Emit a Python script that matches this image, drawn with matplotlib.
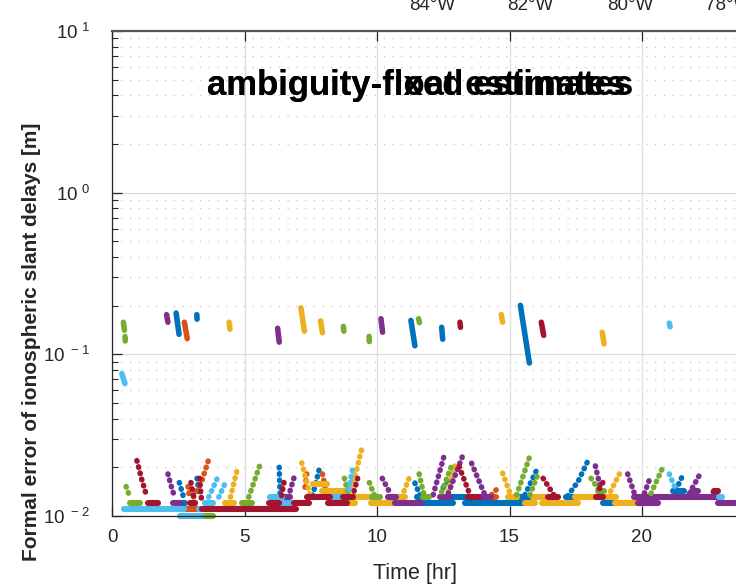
"""
Formal error of ionospheric slant delays, ambiguity-fixed vs ambiguity-float
(MATLAB-style log plot, redrawn with matplotlib).
"""

import matplotlib
matplotlib.use("Agg")
import matplotlib.pyplot as plt

plt.rcParams['font.family'] = ['Liberation Sans', 'DejaVu Sans']
plt.rcParams['mathtext.fontset'] = 'custom'
plt.rcParams['mathtext.rm'] = 'Liberation Sans'

TEXT = '#262626'

# MATLAB default line colours, one per satellite group
colors = {
    'blue': '#0072BD',
    'orange': '#D95319',
    'yellow': '#EDB120',
    'purple': '#7E2F8E',
    'green': '#77AC30',
    'lightblue': '#4DBEEE',
    'darkred': '#A2142F',
}

# floor levels of the fixed solution [m]
R0, R1, R2, R3, R4 = 0.0100, 0.0110, 0.0121, 0.0131, 0.0142

# --- rising / falling arms of each pass: (time [hr], error [m]) vertices ---
blue_arms = [
    [(2.54, 0.0161), (2.70, 0.0131)],
    [(3.21, 0.0171), (3.30, 0.0131)],
    [(6.31, 0.0200), (6.34, 0.0138)],
    [(7.81, 0.0192), (7.66, 0.0152), (7.54, 0.0131)],
    [(11.43, 0.0160), (11.62, 0.0135)],
    [(12.50, 0.0150), (12.70, 0.0165)],
    [(15.58, 0.0135), (16.02, 0.0192)],
    [(17.20, 0.0133), (17.60, 0.0165), (17.99, 0.0225)],
    [(21.28, 0.0145), (21.56, 0.0182)],
]
orange_arms = [
    [(2.87, 0.0152), (2.92, 0.0131)],
    [(3.08, 0.0131), (3.40, 0.0167), (3.69, 0.0235)],
    [(7.35, 0.0182), (7.26, 0.0140)],
    [(7.94, 0.0182), (8.04, 0.0152)],
    [(14.32, 0.0135), (14.58, 0.0150)],
]
yellow_arms = [
    [(4.47, 0.0131), (4.72, 0.0192)],
    [(7.16, 0.0213), (7.26, 0.0184), (7.47, 0.0135)],
    [(8.92, 0.0138), (9.23, 0.0192), (9.46, 0.0275)],
    [(10.93, 0.0131), (11.21, 0.0171)],
    [(12.69, 0.0142), (12.94, 0.0204)],
    [(14.74, 0.0184), (15.04, 0.0135)],
    [(18.70, 0.0131), (19.15, 0.0182)],
]
purple_arms = [
    [(2.11, 0.0182), (2.24, 0.0152), (2.36, 0.0131)],
    [(6.65, 0.0131), (6.91, 0.0182)],
    [(10.20, 0.0171), (10.53, 0.0135)],
    [(12.12, 0.0135), (12.53, 0.0235)],
    [(12.69, 0.0138), (13.23, 0.0235)],
    [(13.57, 0.0212), (14.07, 0.0135)],
    [(18.24, 0.0204), (18.45, 0.0145)],
    [(19.46, 0.0182), (19.71, 0.0138)],
    [(20.09, 0.0138), (20.30, 0.0171)],
    [(21.79, 0.0138), (22.19, 0.0182)],
]
green_arms = [
    [(0.53, 0.0152), (0.69, 0.0129)],
    [(5.16, 0.0131), (5.57, 0.0204)],
    [(8.77, 0.0171), (8.92, 0.0135)],
    [(9.71, 0.0161), (9.93, 0.0131)],
    [(11.59, 0.0182), (11.79, 0.0131)],
    [(12.44, 0.0141), (12.81, 0.0204)],
    [(15.27, 0.0135), (15.77, 0.0235)],
    [(15.77, 0.0135), (16.09, 0.0184)],
    [(18.08, 0.0171), (18.37, 0.0145)],
    [(20.34, 0.0138), (20.81, 0.0204)],
]
lightblue_arms = [
    [(3.65, 0.0131), (4.05, 0.0182)],
    [(4.03, 0.0131), (4.28, 0.0161)],
    [(9.07, 0.0192), (8.92, 0.0145)],
    [(21.03, 0.0182), (21.28, 0.0145)],
]
darkred_arms = [
    [(0.94, 0.0220), (1.11, 0.0171), (1.32, 0.0131)],
    [(2.98, 0.0161), (3.08, 0.0131)],
    [(3.30, 0.0171), (3.38, 0.0125)],
    [(6.49, 0.0161), (6.38, 0.0129)],
    [(9.27, 0.0171), (9.11, 0.0138)],
    [(13.10, 0.0202), (13.51, 0.0135)],
    [(16.27, 0.0171), (16.71, 0.0132)],
    [(18.52, 0.0161), (18.33, 0.0141)],
    [(22.69, 0.0141), (22.86, 0.0150)],
]

# --- flat floor stretches: (start [hr], end [hr], error [m]) ---
blue_flat = [(2.50, 2.75, R2), (11.67, 12.88, R2), (13.32, 15.58, R2),
             (18.52, 18.97, R2), (11.50, 11.80, R3), (12.69, 13.50, R3),
             (15.39, 15.77, R3), (17.15, 17.53, R3), (21.16, 21.60, R4)]
orange_flat = [(2.70, 3.30, R1), (3.00, 3.15, R2), (14.30, 14.50, R3)]
yellow_flat = [(4.26, 4.60, R2), (8.86, 9.17, R2), (9.77, 10.68, R2),
               (15.58, 15.96, R2), (16.21, 17.60, R2), (18.97, 19.85, R2),
               (7.91, 8.79, R4), (9.11, 9.93, R3), (10.80, 11.06, R3),
               (14.95, 15.30, R3), (15.90, 16.34, R3), (17.46, 18.58, R3),
               (18.64, 19.02, R3), (7.60, 8.10, 0.0158)]
purple_flat = [(2.32, 2.58, R2), (10.68, 11.67, R2), (19.84, 20.59, R2),
               (22.86, 23.60, R2), (6.53, 6.72, R3), (10.40, 10.70, R3),
               (12.37, 12.75, R3), (13.88, 14.32, R3), (19.71, 20.53, R3),
               (20.53, 22.98, R3), (21.90, 22.10, R4)]
green_flat = [(3.39, 3.83, R0), (0.68, 1.06, R2), (4.90, 5.28, R2),
              (9.80, 10.10, R3), (11.75, 11.95, R3), (18.35, 18.55, R4)]
lightblue_flat = [(0.44, 2.70, R1), (3.30, 3.40, R1), (2.58, 3.40, R0),
                  (3.50, 3.80, R2), (6.30, 6.85, R2), (5.96, 6.40, R3),
                  (8.23, 8.73, R3), (22.90, 23.00, R3)]
darkred_flat = [(3.40, 6.94, R1), (1.37, 1.75, R2), (2.95, 3.15, R2),
                (5.94, 6.30, R2), (6.85, 7.42, R2), (8.14, 8.86, R2),
                (7.35, 8.23, R3), (8.73, 9.11, R3), (13.43, 13.82, R3),
                (16.46, 16.84, R3), (18.26, 18.52, R3), (22.70, 22.85, R4)]

# --- float-solution stretches: (t0, t1, err0, err1) ---
blue_float = [(2.42, 2.53, 0.180, 0.133), (3.20, 3.21, 0.176, 0.165),
              (11.28, 11.43, 0.162, 0.113), (12.44, 12.48, 0.147, 0.124),
              (15.41, 15.75, 0.201, 0.0884)]
orange_float = [(2.73, 2.84, 0.158, 0.125)]
yellow_float = [(4.42, 4.45, 0.158, 0.143), (7.13, 7.26, 0.194, 0.139),
                (7.87, 7.94, 0.161, 0.136), (14.69, 14.74, 0.176, 0.158),
                (18.50, 18.57, 0.137, 0.116), (11.65, 11.65, 2.83, 2.83)]
purple_float = [(2.06, 2.11, 0.176, 0.158), (6.25, 6.31, 0.145, 0.119),
                (10.15, 10.21, 0.166, 0.137), (19.47, 19.47, 0.155, 0.155)]
green_float = [(0.43, 0.47, 0.158, 0.141), (0.49, 0.50, 0.129, 0.121),
               (8.73, 8.75, 0.149, 0.139), (8.82, 8.82, 0.117, 0.117),
               (8.86, 8.86, 0.106, 0.106), (9.70, 9.71, 0.129, 0.120),
               (11.57, 11.60, 0.166, 0.157)]
lightblue_float = [(0.37, 0.49, 0.076, 0.066), (21.03, 21.06, 0.156, 0.148)]
darkred_float = [(2.97, 2.97, 0.124, 0.124), (13.13, 13.15, 0.158, 0.147),
                 (16.20, 16.29, 0.158, 0.131)]

groups = {
    'blue': (blue_arms, blue_flat, blue_float),
    'orange': (orange_arms, orange_flat, orange_float),
    'yellow': (yellow_arms, yellow_flat, yellow_float),
    'purple': (purple_arms, purple_flat, purple_float),
    'green': (green_arms, green_flat, green_float),
    'lightblue': (lightblue_arms, lightblue_flat, lightblue_float),
    'darkred': (darkred_arms, darkred_flat, darkred_float),
}

xticks = [0, 5, 10, 15, 20]
yticks = [1e-2, 1e-1, 1e0, 1e1]
ytick_labels = [r'$\mathregular{10^{\ -2}}$', r'$\mathregular{10^{\ -1}}$',
                r'$\mathregular{10^{\ 0}}$', r'$\mathregular{10^{\ 1}}$']
lon_labels = ['84°W', '82°W', '80°W', '78°W']
lon_pos_px = [432, 530, 630, 728]


def main():
    W, H = 736, 585
    fig = plt.figure(figsize=(W / 100, H / 100), dpi=100)
    left, right, top, bottom = 112, 748, 31, 516
    ax = fig.add_axes([left / W, (H - bottom) / H, (right - left) / W, (bottom - top) / H])

    ax.set_yscale('log')
    ax.set_xlim(0, 24)
    ax.set_ylim(1e-2, 1e1)

    # grid, MATLAB look
    ax.grid(True, which='major', color='#dddddd', linewidth=0.9)
    ax.grid(True, which='minor', axis='y', color='#c4c4c4', linewidth=0.9,
            linestyle=(0, (1, 6)))
    ax.set_axisbelow(True)

    for name, (arms, flats, floats) in groups.items():
        c = colors[name]
        for arm in arms:
            ts = [p[0] for p in arm]
            vs = [p[1] for p in arm]
            ax.plot(ts, vs, color=c, lw=4.0, linestyle=(0, (0.1, 1.05)),
                    dash_capstyle='round', clip_on=False)
        for t0, t1, v in flats:
            ax.plot([t0, t1], [v, v], color=c, lw=4.4,
                    solid_capstyle='round', clip_on=False)
        for t0, t1, v0, v1 in floats:
            ax.plot([t0, t1], [v0, v1], color=c, lw=4.0,
                    solid_capstyle='round', clip_on=False)

    ax.set_xticks(xticks)
    ax.set_xticklabels([str(x) for x in xticks])
    ax.set_yticks(yticks)
    ax.set_yticklabels(ytick_labels)
    ax.tick_params(which='both', direction='in', top=True, right=True,
                   colors=TEXT, labelsize=13.5)
    ax.tick_params(which='major', length=7, width=0.9)
    ax.tick_params(which='minor', length=4, width=0.8)
    ax.tick_params(axis='x', pad=9)
    ax.tick_params(axis='y', pad=16)
    ax.tick_params(axis='x', which='minor', bottom=False, top=False)

    for s in ax.spines.values():
        s.set_color(TEXT)
        s.set_linewidth(0.9)
    ax.spines['top'].set_linewidth(1.6)
    ax.spines['top'].set_color('#555555')

    ax.set_xlabel('Time [hr]', fontsize=15.5, color=TEXT)
    ax.xaxis.set_label_coords((415 - left) / (right - left), (bottom - 563) / (bottom - top))
    ax.set_ylabel('Formal error of ionospheric slant delays [m]', fontsize=15,
                  fontweight='bold', color=TEXT)
    ax.yaxis.set_label_coords((41 - left) / (right - left), (bottom - 342) / (bottom - top))

    # overlapping titles of the two overlaid panels
    for title in ['ambiguity-fixed estimates', 'ambiguity-float estimates']:
        fig.text(207 / W, 1 - 95 / H, title, fontsize=25, fontweight='bold',
                 color='black', ha='left', va='baseline')

    # longitude labels of the map panel underneath
    for lab, px in zip(lon_labels, lon_pos_px):
        fig.text(px / W, 1 - 10 / H, lab, fontsize=13.5, color=TEXT,
                 ha='center', va='baseline')

    fig.savefig('out.png', dpi=100)


if __name__ == "__main__":
    main()
